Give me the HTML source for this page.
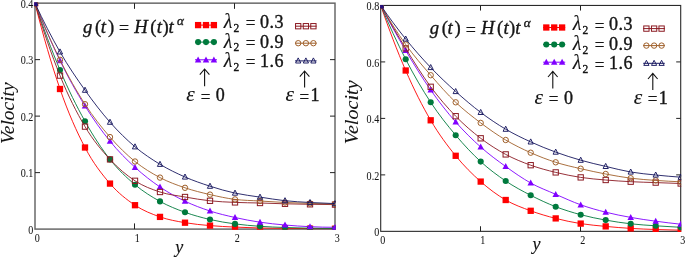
<!DOCTYPE html>
<html><head><meta charset="utf-8"><title>Velocity profiles</title>
<style>
html,body{margin:0;padding:0;background:#fff;}
body{width:685px;height:257px;overflow:hidden;}
svg{display:block;}
text{font-family:"Liberation Serif","Times New Roman",serif;fill:#151515;stroke:#151515;stroke-width:0.38px;}
.i{font-style:italic;}
.r{font-style:normal;}
.ns{stroke-width:0.04px;}
.ts{stroke-width:0.32px;}
.vs{stroke-width:0.06px;}
.ys{stroke-width:0.15px;}
.lam{stroke-width:0.1px;}
.eq{stroke-width:0.05px;}
</style></head><body>
<svg width="685" height="257" viewBox="0 0 685 257">
<rect width="685" height="257" fill="#fff"/>
<clipPath id="cl"><rect x="34.27" y="2.42" width="301.45" height="227.40"/></clipPath>
<rect x="35.00" y="3.15" width="300.00" height="225.95" fill="none" stroke="#646464" stroke-width="1.45"/>
<path d="M134.50,3.15 v5.7 M134.50,229.10 v-5.7" stroke="#222" stroke-width="1"/>
<path d="M234.50,3.15 v5.7 M234.50,229.10 v-5.7" stroke="#222" stroke-width="1"/>
<path d="M35.00,172.61 h5.0 M335.00,172.61 h-5.0" stroke="#222" stroke-width="1"/>
<path d="M35.00,116.12 h5.0 M335.00,116.12 h-5.0" stroke="#222" stroke-width="1"/>
<path d="M35.00,59.64 h5.0 M335.00,59.64 h-5.0" stroke="#222" stroke-width="1"/>
<g clip-path="url(#cl)">
<path d="M35.00,3.20 C43.33,36.35 51.67,64.95 60.00,89.00 C68.33,113.05 76.67,131.73 85.00,147.50 C93.33,163.27 101.67,173.98 110.00,183.60 C118.33,193.22 126.67,199.65 135.00,205.20 C143.33,210.75 151.67,213.98 160.00,216.90 C168.33,219.82 176.67,221.25 185.00,222.70 C193.33,224.15 201.67,224.87 210.00,225.60 C218.33,226.33 226.67,226.70 235.00,227.10 C243.33,227.50 251.67,227.78 260.00,228.00 C268.33,228.22 276.67,228.30 285.00,228.40 C293.33,228.50 301.67,228.55 310.00,228.60 C318.33,228.65 326.67,228.68 335.00,228.70" fill="none" stroke="#ff0000" stroke-width="0.9"/>
<rect x="31.85" y="0.05" width="6.3" height="6.3" fill="#ff0000"/>
<rect x="56.85" y="85.85" width="6.3" height="6.3" fill="#ff0000"/>
<rect x="81.85" y="144.35" width="6.3" height="6.3" fill="#ff0000"/>
<rect x="106.85" y="180.45" width="6.3" height="6.3" fill="#ff0000"/>
<rect x="131.85" y="202.05" width="6.3" height="6.3" fill="#ff0000"/>
<rect x="156.85" y="213.75" width="6.3" height="6.3" fill="#ff0000"/>
<rect x="181.85" y="219.55" width="6.3" height="6.3" fill="#ff0000"/>
<rect x="206.85" y="222.45" width="6.3" height="6.3" fill="#ff0000"/>
<rect x="231.85" y="223.95" width="6.3" height="6.3" fill="#ff0000"/>
<rect x="256.85" y="224.85" width="6.3" height="6.3" fill="#ff0000"/>
<rect x="281.85" y="225.25" width="6.3" height="6.3" fill="#ff0000"/>
<rect x="306.85" y="225.45" width="6.3" height="6.3" fill="#ff0000"/>
<rect x="331.85" y="225.55" width="6.3" height="6.3" fill="#ff0000"/>
<path d="M35.00,3.20 C43.33,28.05 51.67,50.32 60.00,70.00 C68.33,89.68 76.67,106.40 85.00,121.30 C93.33,136.20 101.67,148.83 110.00,159.40 C118.33,169.97 126.67,177.70 135.00,184.70 C143.33,191.70 151.67,196.80 160.00,201.40 C168.33,206.00 176.67,209.28 185.00,212.30 C193.33,215.32 201.67,217.57 210.00,219.50 C218.33,221.43 226.67,222.77 235.00,223.90 C243.33,225.03 251.67,225.70 260.00,226.30 C268.33,226.90 276.67,227.18 285.00,227.50 C293.33,227.82 301.67,228.03 310.00,228.20 C318.33,228.37 326.67,228.47 335.00,228.50" fill="none" stroke="#007a3d" stroke-width="0.9"/>
<circle cx="35.00" cy="3.20" r="3.05" fill="#007a3d"/>
<circle cx="60.00" cy="70.00" r="3.05" fill="#007a3d"/>
<circle cx="85.00" cy="121.30" r="3.05" fill="#007a3d"/>
<circle cx="110.00" cy="159.40" r="3.05" fill="#007a3d"/>
<circle cx="135.00" cy="184.70" r="3.05" fill="#007a3d"/>
<circle cx="160.00" cy="201.40" r="3.05" fill="#007a3d"/>
<circle cx="185.00" cy="212.30" r="3.05" fill="#007a3d"/>
<circle cx="210.00" cy="219.50" r="3.05" fill="#007a3d"/>
<circle cx="235.00" cy="223.90" r="3.05" fill="#007a3d"/>
<circle cx="260.00" cy="226.30" r="3.05" fill="#007a3d"/>
<circle cx="285.00" cy="227.50" r="3.05" fill="#007a3d"/>
<circle cx="310.00" cy="228.20" r="3.05" fill="#007a3d"/>
<circle cx="335.00" cy="228.50" r="3.05" fill="#007a3d"/>
<path d="M35.00,3.20 C43.33,24.35 51.67,43.48 60.00,60.60 C68.33,77.72 76.67,92.47 85.00,105.90 C93.33,119.33 101.67,130.97 110.00,141.20 C118.33,151.43 126.67,159.67 135.00,167.30 C143.33,174.93 151.67,181.35 160.00,187.00 C168.33,192.65 176.67,197.20 185.00,201.20 C193.33,205.20 201.67,208.28 210.00,211.00 C218.33,213.72 226.67,215.63 235.00,217.50 C243.33,219.37 251.67,220.95 260.00,222.20 C268.33,223.45 276.67,224.25 285.00,225.00 C293.33,225.75 301.67,226.32 310.00,226.70 C318.33,227.08 326.67,227.28 335.00,227.30" fill="none" stroke="#8000ff" stroke-width="0.9"/>
<path d="M35.00,-0.20 L38.25,5.80 L31.75,5.80 Z" fill="#8000ff"/>
<path d="M60.00,57.20 L63.25,63.20 L56.75,63.20 Z" fill="#8000ff"/>
<path d="M85.00,102.50 L88.25,108.50 L81.75,108.50 Z" fill="#8000ff"/>
<path d="M110.00,137.80 L113.25,143.80 L106.75,143.80 Z" fill="#8000ff"/>
<path d="M135.00,163.90 L138.25,169.90 L131.75,169.90 Z" fill="#8000ff"/>
<path d="M160.00,183.60 L163.25,189.60 L156.75,189.60 Z" fill="#8000ff"/>
<path d="M185.00,197.80 L188.25,203.80 L181.75,203.80 Z" fill="#8000ff"/>
<path d="M210.00,207.60 L213.25,213.60 L206.75,213.60 Z" fill="#8000ff"/>
<path d="M235.00,214.10 L238.25,220.10 L231.75,220.10 Z" fill="#8000ff"/>
<path d="M260.00,218.80 L263.25,224.80 L256.75,224.80 Z" fill="#8000ff"/>
<path d="M285.00,221.60 L288.25,227.60 L281.75,227.60 Z" fill="#8000ff"/>
<path d="M310.00,223.30 L313.25,229.30 L306.75,229.30 Z" fill="#8000ff"/>
<path d="M335.00,223.90 L338.25,229.90 L331.75,229.90 Z" fill="#8000ff"/>
<path d="M35.00,3.20 C43.33,30.90 51.67,55.03 60.00,75.60 C68.33,96.17 76.67,112.63 85.00,126.60 C93.33,140.57 101.67,150.37 110.00,159.40 C118.33,168.43 126.67,175.37 135.00,180.80 C143.33,186.23 151.67,189.30 160.00,192.00 C168.33,194.70 176.67,195.53 185.00,197.00 C193.33,198.47 201.67,199.90 210.00,200.80 C218.33,201.70 226.67,202.03 235.00,202.40 C243.33,202.77 251.67,202.77 260.00,203.00 C268.33,203.23 276.67,203.58 285.00,203.80 C293.33,204.02 301.67,204.17 310.00,204.30 C318.33,204.43 326.67,204.53 335.00,204.60" fill="none" stroke="#8b1a22" stroke-width="0.9"/>
<rect x="32.35" y="0.55" width="5.3" height="5.3" fill="none" stroke="#8b1a22" stroke-width="1"/>
<rect x="57.35" y="72.95" width="5.3" height="5.3" fill="none" stroke="#8b1a22" stroke-width="1"/>
<rect x="82.35" y="123.95" width="5.3" height="5.3" fill="none" stroke="#8b1a22" stroke-width="1"/>
<rect x="107.35" y="156.75" width="5.3" height="5.3" fill="none" stroke="#8b1a22" stroke-width="1"/>
<rect x="132.35" y="178.15" width="5.3" height="5.3" fill="none" stroke="#8b1a22" stroke-width="1"/>
<rect x="157.35" y="189.35" width="5.3" height="5.3" fill="none" stroke="#8b1a22" stroke-width="1"/>
<rect x="182.35" y="194.35" width="5.3" height="5.3" fill="none" stroke="#8b1a22" stroke-width="1"/>
<rect x="207.35" y="198.15" width="5.3" height="5.3" fill="none" stroke="#8b1a22" stroke-width="1"/>
<rect x="232.35" y="199.75" width="5.3" height="5.3" fill="none" stroke="#8b1a22" stroke-width="1"/>
<rect x="257.35" y="200.35" width="5.3" height="5.3" fill="none" stroke="#8b1a22" stroke-width="1"/>
<rect x="282.35" y="201.15" width="5.3" height="5.3" fill="none" stroke="#8b1a22" stroke-width="1"/>
<rect x="307.35" y="201.65" width="5.3" height="5.3" fill="none" stroke="#8b1a22" stroke-width="1"/>
<rect x="332.35" y="201.95" width="5.3" height="5.3" fill="none" stroke="#8b1a22" stroke-width="1"/>
<path d="M35.00,3.20 C43.33,24.10 51.67,42.97 60.00,59.80 C68.33,76.63 76.67,91.32 85.00,104.20 C93.33,117.08 101.67,127.55 110.00,137.10 C118.33,146.65 126.67,154.75 135.00,161.50 C143.33,168.25 151.67,173.22 160.00,177.60 C168.33,181.98 176.67,184.97 185.00,187.80 C193.33,190.63 201.67,192.67 210.00,194.60 C218.33,196.53 226.67,198.33 235.00,199.40 C243.33,200.47 251.67,200.48 260.00,201.00 C268.33,201.52 276.67,202.10 285.00,202.50 C293.33,202.90 301.67,203.15 310.00,203.40 C318.33,203.65 326.67,203.85 335.00,204.00" fill="none" stroke="#a0602a" stroke-width="0.9"/>
<circle cx="35.00" cy="3.20" r="2.7" fill="none" stroke="#a0602a" stroke-width="1"/>
<circle cx="60.00" cy="59.80" r="2.7" fill="none" stroke="#a0602a" stroke-width="1"/>
<circle cx="85.00" cy="104.20" r="2.7" fill="none" stroke="#a0602a" stroke-width="1"/>
<circle cx="110.00" cy="137.10" r="2.7" fill="none" stroke="#a0602a" stroke-width="1"/>
<circle cx="135.00" cy="161.50" r="2.7" fill="none" stroke="#a0602a" stroke-width="1"/>
<circle cx="160.00" cy="177.60" r="2.7" fill="none" stroke="#a0602a" stroke-width="1"/>
<circle cx="185.00" cy="187.80" r="2.7" fill="none" stroke="#a0602a" stroke-width="1"/>
<circle cx="210.00" cy="194.60" r="2.7" fill="none" stroke="#a0602a" stroke-width="1"/>
<circle cx="235.00" cy="199.40" r="2.7" fill="none" stroke="#a0602a" stroke-width="1"/>
<circle cx="260.00" cy="201.00" r="2.7" fill="none" stroke="#a0602a" stroke-width="1"/>
<circle cx="285.00" cy="202.50" r="2.7" fill="none" stroke="#a0602a" stroke-width="1"/>
<circle cx="310.00" cy="203.40" r="2.7" fill="none" stroke="#a0602a" stroke-width="1"/>
<circle cx="335.00" cy="204.00" r="2.7" fill="none" stroke="#a0602a" stroke-width="1"/>
<path d="M35.00,3.20 C43.33,21.17 51.67,37.40 60.00,51.90 C68.33,66.40 76.67,78.48 85.00,90.20 C93.33,101.92 101.67,112.77 110.00,122.20 C118.33,131.63 126.67,139.78 135.00,146.80 C143.33,153.82 151.67,159.27 160.00,164.30 C168.33,169.33 176.67,173.35 185.00,177.00 C193.33,180.65 201.67,183.52 210.00,186.20 C218.33,188.88 226.67,191.28 235.00,193.10 C243.33,194.92 251.67,195.83 260.00,197.10 C268.33,198.37 276.67,199.80 285.00,200.70 C293.33,201.60 301.67,202.02 310.00,202.50 C318.33,202.98 326.67,203.35 335.00,203.60" fill="none" stroke="#17175f" stroke-width="0.9"/>
<path d="M35.00,0.20 L37.60,5.30 L32.40,5.30 Z" fill="none" stroke="#17175f" stroke-width="0.95" stroke-linejoin="round"/>
<path d="M60.00,48.90 L62.60,54.00 L57.40,54.00 Z" fill="none" stroke="#17175f" stroke-width="0.95" stroke-linejoin="round"/>
<path d="M85.00,87.20 L87.60,92.30 L82.40,92.30 Z" fill="none" stroke="#17175f" stroke-width="0.95" stroke-linejoin="round"/>
<path d="M110.00,119.20 L112.60,124.30 L107.40,124.30 Z" fill="none" stroke="#17175f" stroke-width="0.95" stroke-linejoin="round"/>
<path d="M135.00,143.80 L137.60,148.90 L132.40,148.90 Z" fill="none" stroke="#17175f" stroke-width="0.95" stroke-linejoin="round"/>
<path d="M160.00,161.30 L162.60,166.40 L157.40,166.40 Z" fill="none" stroke="#17175f" stroke-width="0.95" stroke-linejoin="round"/>
<path d="M185.00,174.00 L187.60,179.10 L182.40,179.10 Z" fill="none" stroke="#17175f" stroke-width="0.95" stroke-linejoin="round"/>
<path d="M210.00,183.20 L212.60,188.30 L207.40,188.30 Z" fill="none" stroke="#17175f" stroke-width="0.95" stroke-linejoin="round"/>
<path d="M235.00,190.10 L237.60,195.20 L232.40,195.20 Z" fill="none" stroke="#17175f" stroke-width="0.95" stroke-linejoin="round"/>
<path d="M260.00,194.10 L262.60,199.20 L257.40,199.20 Z" fill="none" stroke="#17175f" stroke-width="0.95" stroke-linejoin="round"/>
<path d="M285.00,197.70 L287.60,202.80 L282.40,202.80 Z" fill="none" stroke="#17175f" stroke-width="0.95" stroke-linejoin="round"/>
<path d="M310.00,199.50 L312.60,204.60 L307.40,204.60 Z" fill="none" stroke="#17175f" stroke-width="0.95" stroke-linejoin="round"/>
<path d="M335.00,200.60 L337.60,205.70 L332.40,205.70 Z" fill="none" stroke="#17175f" stroke-width="0.95" stroke-linejoin="round"/>
<rect x="34.27" y="2.42" width="3.4" height="3.6" fill="#24127a"/>
</g>
<clipPath id="cr"><rect x="380.15" y="4.90" width="301.10" height="227.00"/></clipPath>
<rect x="380.70" y="5.45" width="300.00" height="225.90" fill="none" stroke="#2a2a2a" stroke-width="1.10"/>
<path d="M480.50,5.45 v5.1 M480.50,231.35 v-5.1" stroke="#222" stroke-width="1"/>
<path d="M580.50,5.45 v5.1 M580.50,231.35 v-5.1" stroke="#222" stroke-width="1"/>
<path d="M380.70,174.88 h4.5 M680.70,174.88 h-4.5" stroke="#222" stroke-width="1"/>
<path d="M380.70,118.40 h4.5 M680.70,118.40 h-4.5" stroke="#222" stroke-width="1"/>
<path d="M380.70,61.92 h4.5 M680.70,61.92 h-4.5" stroke="#222" stroke-width="1"/>
<g clip-path="url(#cr)">
<path d="M380.70,5.30 C389.03,29.60 397.37,51.33 405.70,70.50 C414.03,89.67 422.37,106.08 430.70,120.30 C439.03,134.52 447.37,145.58 455.70,155.80 C464.03,166.02 472.37,174.23 480.70,181.60 C489.03,188.97 497.37,195.13 505.70,200.00 C514.03,204.87 522.37,207.73 530.70,210.80 C539.03,213.87 547.37,216.27 555.70,218.40 C564.03,220.53 572.37,222.27 580.70,223.60 C589.03,224.93 597.37,225.60 605.70,226.40 C614.03,227.20 622.37,227.88 630.70,228.40 C639.03,228.92 647.37,229.20 655.70,229.50 C664.03,229.80 672.37,230.03 680.70,230.20" fill="none" stroke="#ff0000" stroke-width="0.9"/>
<rect x="377.55" y="2.15" width="6.3" height="6.3" fill="#ff0000"/>
<rect x="402.55" y="67.35" width="6.3" height="6.3" fill="#ff0000"/>
<rect x="427.55" y="117.15" width="6.3" height="6.3" fill="#ff0000"/>
<rect x="452.55" y="152.65" width="6.3" height="6.3" fill="#ff0000"/>
<rect x="477.55" y="178.45" width="6.3" height="6.3" fill="#ff0000"/>
<rect x="502.55" y="196.85" width="6.3" height="6.3" fill="#ff0000"/>
<rect x="527.55" y="207.65" width="6.3" height="6.3" fill="#ff0000"/>
<rect x="552.55" y="215.25" width="6.3" height="6.3" fill="#ff0000"/>
<rect x="577.55" y="220.45" width="6.3" height="6.3" fill="#ff0000"/>
<rect x="602.55" y="223.25" width="6.3" height="6.3" fill="#ff0000"/>
<rect x="627.55" y="225.25" width="6.3" height="6.3" fill="#ff0000"/>
<rect x="652.55" y="226.35" width="6.3" height="6.3" fill="#ff0000"/>
<rect x="677.55" y="227.05" width="6.3" height="6.3" fill="#ff0000"/>
<path d="M380.70,5.30 C389.03,25.13 397.37,43.13 405.70,59.30 C414.03,75.47 422.37,89.65 430.70,102.30 C439.03,114.95 447.37,125.32 455.70,135.20 C464.03,145.08 472.37,153.97 480.70,161.60 C489.03,169.23 497.37,175.38 505.70,181.00 C514.03,186.62 522.37,191.02 530.70,195.30 C539.03,199.58 547.37,203.47 555.70,206.70 C564.03,209.93 572.37,212.47 580.70,214.70 C589.03,216.93 597.37,218.58 605.70,220.10 C614.03,221.62 622.37,222.85 630.70,223.80 C639.03,224.75 647.37,225.22 655.70,225.80 C664.03,226.38 672.37,226.88 680.70,227.30" fill="none" stroke="#007a3d" stroke-width="0.9"/>
<circle cx="380.70" cy="5.30" r="3.05" fill="#007a3d"/>
<circle cx="405.70" cy="59.30" r="3.05" fill="#007a3d"/>
<circle cx="430.70" cy="102.30" r="3.05" fill="#007a3d"/>
<circle cx="455.70" cy="135.20" r="3.05" fill="#007a3d"/>
<circle cx="480.70" cy="161.60" r="3.05" fill="#007a3d"/>
<circle cx="505.70" cy="181.00" r="3.05" fill="#007a3d"/>
<circle cx="530.70" cy="195.30" r="3.05" fill="#007a3d"/>
<circle cx="555.70" cy="206.70" r="3.05" fill="#007a3d"/>
<circle cx="580.70" cy="214.70" r="3.05" fill="#007a3d"/>
<circle cx="605.70" cy="220.10" r="3.05" fill="#007a3d"/>
<circle cx="630.70" cy="223.80" r="3.05" fill="#007a3d"/>
<circle cx="655.70" cy="225.80" r="3.05" fill="#007a3d"/>
<circle cx="680.70" cy="227.30" r="3.05" fill="#007a3d"/>
<path d="M380.70,5.30 C389.03,21.32 397.37,36.38 405.70,50.50 C414.03,64.62 422.37,78.08 430.70,90.00 C439.03,101.92 447.37,112.50 455.70,122.00 C464.03,131.50 472.37,139.58 480.70,147.00 C489.03,154.42 497.37,160.50 505.70,166.50 C514.03,172.50 522.37,178.37 530.70,183.00 C539.03,187.63 547.37,190.67 555.70,194.30 C564.03,197.93 572.37,201.82 580.70,204.80 C589.03,207.78 597.37,210.10 605.70,212.20 C614.03,214.30 622.37,215.90 630.70,217.40 C639.03,218.90 647.37,220.07 655.70,221.20 C664.03,222.33 672.37,223.33 680.70,224.20" fill="none" stroke="#8000ff" stroke-width="0.9"/>
<path d="M380.70,1.90 L383.95,7.90 L377.45,7.90 Z" fill="#8000ff"/>
<path d="M405.70,47.10 L408.95,53.10 L402.45,53.10 Z" fill="#8000ff"/>
<path d="M430.70,86.60 L433.95,92.60 L427.45,92.60 Z" fill="#8000ff"/>
<path d="M455.70,118.60 L458.95,124.60 L452.45,124.60 Z" fill="#8000ff"/>
<path d="M480.70,143.60 L483.95,149.60 L477.45,149.60 Z" fill="#8000ff"/>
<path d="M505.70,163.10 L508.95,169.10 L502.45,169.10 Z" fill="#8000ff"/>
<path d="M530.70,179.60 L533.95,185.60 L527.45,185.60 Z" fill="#8000ff"/>
<path d="M555.70,190.90 L558.95,196.90 L552.45,196.90 Z" fill="#8000ff"/>
<path d="M580.70,201.40 L583.95,207.40 L577.45,207.40 Z" fill="#8000ff"/>
<path d="M605.70,208.80 L608.95,214.80 L602.45,214.80 Z" fill="#8000ff"/>
<path d="M630.70,214.00 L633.95,220.00 L627.45,220.00 Z" fill="#8000ff"/>
<path d="M655.70,217.80 L658.95,223.80 L652.45,223.80 Z" fill="#8000ff"/>
<path d="M680.70,220.80 L683.95,226.80 L677.45,226.80 Z" fill="#8000ff"/>
<path d="M380.70,5.30 C389.03,20.45 397.37,34.82 405.70,48.40 C414.03,61.98 422.37,75.50 430.70,86.80 C439.03,98.10 447.37,107.62 455.70,116.20 C464.03,124.78 472.37,131.93 480.70,138.30 C489.03,144.67 497.37,149.92 505.70,154.40 C514.03,158.88 522.37,162.20 530.70,165.20 C539.03,168.20 547.37,170.37 555.70,172.40 C564.03,174.43 572.37,176.13 580.70,177.40 C589.03,178.67 597.37,179.28 605.70,180.00 C614.03,180.72 622.37,181.27 630.70,181.70 C639.03,182.13 647.37,182.30 655.70,182.60 C664.03,182.90 672.37,183.20 680.70,183.50" fill="none" stroke="#8b1a22" stroke-width="0.9"/>
<rect x="378.05" y="2.65" width="5.3" height="5.3" fill="none" stroke="#8b1a22" stroke-width="1"/>
<rect x="403.05" y="45.75" width="5.3" height="5.3" fill="none" stroke="#8b1a22" stroke-width="1"/>
<rect x="428.05" y="84.15" width="5.3" height="5.3" fill="none" stroke="#8b1a22" stroke-width="1"/>
<rect x="453.05" y="113.55" width="5.3" height="5.3" fill="none" stroke="#8b1a22" stroke-width="1"/>
<rect x="478.05" y="135.65" width="5.3" height="5.3" fill="none" stroke="#8b1a22" stroke-width="1"/>
<rect x="503.05" y="151.75" width="5.3" height="5.3" fill="none" stroke="#8b1a22" stroke-width="1"/>
<rect x="528.05" y="162.55" width="5.3" height="5.3" fill="none" stroke="#8b1a22" stroke-width="1"/>
<rect x="553.05" y="169.75" width="5.3" height="5.3" fill="none" stroke="#8b1a22" stroke-width="1"/>
<rect x="578.05" y="174.75" width="5.3" height="5.3" fill="none" stroke="#8b1a22" stroke-width="1"/>
<rect x="603.05" y="177.35" width="5.3" height="5.3" fill="none" stroke="#8b1a22" stroke-width="1"/>
<rect x="628.05" y="179.05" width="5.3" height="5.3" fill="none" stroke="#8b1a22" stroke-width="1"/>
<rect x="653.05" y="179.95" width="5.3" height="5.3" fill="none" stroke="#8b1a22" stroke-width="1"/>
<rect x="678.05" y="180.85" width="5.3" height="5.3" fill="none" stroke="#8b1a22" stroke-width="1"/>
<path d="M380.70,5.30 C389.03,19.78 397.37,32.85 405.70,44.50 C414.03,56.15 422.37,65.57 430.70,75.20 C439.03,84.83 447.37,94.35 455.70,102.30 C464.03,110.25 472.37,116.62 480.70,122.90 C489.03,129.18 497.37,135.03 505.70,140.00 C514.03,144.97 522.37,148.98 530.70,152.70 C539.03,156.42 547.37,159.63 555.70,162.30 C564.03,164.97 572.37,166.75 580.70,168.70 C589.03,170.65 597.37,172.42 605.70,174.00 C614.03,175.58 622.37,177.13 630.70,178.20 C639.03,179.27 647.37,179.80 655.70,180.40 C664.03,181.00 672.37,181.47 680.70,181.80" fill="none" stroke="#a0602a" stroke-width="0.9"/>
<circle cx="380.70" cy="5.30" r="2.7" fill="none" stroke="#a0602a" stroke-width="1"/>
<circle cx="405.70" cy="44.50" r="2.7" fill="none" stroke="#a0602a" stroke-width="1"/>
<circle cx="430.70" cy="75.20" r="2.7" fill="none" stroke="#a0602a" stroke-width="1"/>
<circle cx="455.70" cy="102.30" r="2.7" fill="none" stroke="#a0602a" stroke-width="1"/>
<circle cx="480.70" cy="122.90" r="2.7" fill="none" stroke="#a0602a" stroke-width="1"/>
<circle cx="505.70" cy="140.00" r="2.7" fill="none" stroke="#a0602a" stroke-width="1"/>
<circle cx="530.70" cy="152.70" r="2.7" fill="none" stroke="#a0602a" stroke-width="1"/>
<circle cx="555.70" cy="162.30" r="2.7" fill="none" stroke="#a0602a" stroke-width="1"/>
<circle cx="580.70" cy="168.70" r="2.7" fill="none" stroke="#a0602a" stroke-width="1"/>
<circle cx="605.70" cy="174.00" r="2.7" fill="none" stroke="#a0602a" stroke-width="1"/>
<circle cx="630.70" cy="178.20" r="2.7" fill="none" stroke="#a0602a" stroke-width="1"/>
<circle cx="655.70" cy="180.40" r="2.7" fill="none" stroke="#a0602a" stroke-width="1"/>
<circle cx="680.70" cy="181.80" r="2.7" fill="none" stroke="#a0602a" stroke-width="1"/>
<path d="M380.70,5.30 C389.03,17.40 397.37,28.63 405.70,39.00 C414.03,49.37 422.37,58.75 430.70,67.50 C439.03,76.25 447.37,84.02 455.70,91.50 C464.03,98.98 472.37,106.12 480.70,112.40 C489.03,118.68 497.37,124.28 505.70,129.20 C514.03,134.12 522.37,138.08 530.70,141.90 C539.03,145.72 547.37,149.05 555.70,152.10 C564.03,155.15 572.37,157.82 580.70,160.20 C589.03,162.58 597.37,164.43 605.70,166.40 C614.03,168.37 622.37,170.57 630.70,172.00 C639.03,173.43 647.37,174.13 655.70,175.00 C664.03,175.87 672.37,176.60 680.70,177.20" fill="none" stroke="#17175f" stroke-width="0.9"/>
<path d="M380.70,2.30 L383.30,7.40 L378.10,7.40 Z" fill="none" stroke="#17175f" stroke-width="0.95" stroke-linejoin="round"/>
<path d="M405.70,36.00 L408.30,41.10 L403.10,41.10 Z" fill="none" stroke="#17175f" stroke-width="0.95" stroke-linejoin="round"/>
<path d="M430.70,64.50 L433.30,69.60 L428.10,69.60 Z" fill="none" stroke="#17175f" stroke-width="0.95" stroke-linejoin="round"/>
<path d="M455.70,88.50 L458.30,93.60 L453.10,93.60 Z" fill="none" stroke="#17175f" stroke-width="0.95" stroke-linejoin="round"/>
<path d="M480.70,109.40 L483.30,114.50 L478.10,114.50 Z" fill="none" stroke="#17175f" stroke-width="0.95" stroke-linejoin="round"/>
<path d="M505.70,126.20 L508.30,131.30 L503.10,131.30 Z" fill="none" stroke="#17175f" stroke-width="0.95" stroke-linejoin="round"/>
<path d="M530.70,138.90 L533.30,144.00 L528.10,144.00 Z" fill="none" stroke="#17175f" stroke-width="0.95" stroke-linejoin="round"/>
<path d="M555.70,149.10 L558.30,154.20 L553.10,154.20 Z" fill="none" stroke="#17175f" stroke-width="0.95" stroke-linejoin="round"/>
<path d="M580.70,157.20 L583.30,162.30 L578.10,162.30 Z" fill="none" stroke="#17175f" stroke-width="0.95" stroke-linejoin="round"/>
<path d="M605.70,163.40 L608.30,168.50 L603.10,168.50 Z" fill="none" stroke="#17175f" stroke-width="0.95" stroke-linejoin="round"/>
<path d="M630.70,169.00 L633.30,174.10 L628.10,174.10 Z" fill="none" stroke="#17175f" stroke-width="0.95" stroke-linejoin="round"/>
<path d="M655.70,172.00 L658.30,177.10 L653.10,177.10 Z" fill="none" stroke="#17175f" stroke-width="0.95" stroke-linejoin="round"/>
<path d="M680.70,174.20 L683.30,179.30 L678.10,179.30 Z" fill="none" stroke="#17175f" stroke-width="0.95" stroke-linejoin="round"/>
<rect x="380.15" y="4.90" width="3.4" height="3.6" fill="#24127a"/>
</g>
<text transform="scale(1.040,1)" class="ts" font-size="18"><tspan class="i" x="79.90" y="33.00">g</tspan><tspan class="r" x="91.44" y="33.00">(</tspan><tspan class="i" x="96.83" y="33.00">t</tspan><tspan class="r" x="103.75" y="33.00">)</tspan><tspan class="r eq" x="114.23" y="34.40">=</tspan><tspan class="i" x="129.13" y="33.00">H</tspan><tspan class="r" x="144.42" y="33.00">(</tspan><tspan class="i" x="150.67" y="33.00">t</tspan><tspan class="r" x="156.15" y="33.00">)</tspan><tspan class="i" x="162.12" y="33.00">t</tspan><tspan class="i" x="170.19" y="25.20" font-size="12.6">α</tspan></text>
<text transform="scale(1.040,1)" class="ts" font-size="18"><tspan class="i" x="413.27" y="34.40">g</tspan><tspan class="r" x="424.81" y="34.40">(</tspan><tspan class="i" x="430.19" y="34.40">t</tspan><tspan class="r" x="437.12" y="34.40">)</tspan><tspan class="r eq" x="447.60" y="35.80">=</tspan><tspan class="i" x="462.50" y="34.40">H</tspan><tspan class="r" x="477.79" y="34.40">(</tspan><tspan class="i" x="484.04" y="34.40">t</tspan><tspan class="r" x="489.52" y="34.40">)</tspan><tspan class="i" x="495.48" y="34.40">t</tspan><tspan class="i" x="503.56" y="26.60" font-size="12.6">α</tspan></text>
<text font-size="18"><tspan class="i lam" x="223.80" y="28.00" font-size="20">λ</tspan><tspan class="r" x="233.60" y="31.70" font-size="11.5">2</tspan><tspan class="r eq" x="245.60" y="29.30">=</tspan><tspan class="r" x="260.00" y="28.00" letter-spacing="0.45">0.3</tspan></text>
<path d="M195.00,25.10 H217.00" stroke="#ff0000" stroke-width="1"/>
<rect x="194.95" y="21.95" width="6.3" height="6.3" fill="#ff0000"/>
<rect x="202.85" y="21.95" width="6.3" height="6.3" fill="#ff0000"/>
<rect x="210.75" y="21.95" width="6.3" height="6.3" fill="#ff0000"/>
<path d="M295.00,26.20 H316.60" stroke="#8b1a22" stroke-width="1"/>
<rect x="295.55" y="23.55" width="5.3" height="5.3" fill="none" stroke="#8b1a22" stroke-width="1"/>
<rect x="303.25" y="23.55" width="5.3" height="5.3" fill="none" stroke="#8b1a22" stroke-width="1"/>
<rect x="310.75" y="23.55" width="5.3" height="5.3" fill="none" stroke="#8b1a22" stroke-width="1"/>
<text font-size="18"><tspan class="i lam" x="223.80" y="47.50" font-size="20">λ</tspan><tspan class="r" x="233.60" y="51.20" font-size="11.5">2</tspan><tspan class="r eq" x="245.60" y="48.80">=</tspan><tspan class="r" x="260.00" y="47.50" letter-spacing="0.45">0.9</tspan></text>
<path d="M195.00,42.10 H217.00" stroke="#007a3d" stroke-width="1"/>
<circle cx="198.10" cy="42.10" r="3.05" fill="#007a3d"/>
<circle cx="206.00" cy="42.10" r="3.05" fill="#007a3d"/>
<circle cx="213.90" cy="42.10" r="3.05" fill="#007a3d"/>
<path d="M295.00,43.20 H316.60" stroke="#a0602a" stroke-width="1"/>
<circle cx="298.20" cy="43.20" r="2.7" fill="none" stroke="#a0602a" stroke-width="1"/>
<circle cx="305.90" cy="43.20" r="2.7" fill="none" stroke="#a0602a" stroke-width="1"/>
<circle cx="313.40" cy="43.20" r="2.7" fill="none" stroke="#a0602a" stroke-width="1"/>
<text font-size="18"><tspan class="i lam" x="223.80" y="66.80" font-size="20">λ</tspan><tspan class="r" x="233.60" y="70.50" font-size="11.5">2</tspan><tspan class="r eq" x="245.60" y="68.10">=</tspan><tspan class="r" x="260.00" y="66.80" letter-spacing="0.45">1.6</tspan></text>
<path d="M195.00,59.80 H217.00" stroke="#8000ff" stroke-width="1"/>
<path d="M198.10,56.40 L201.35,62.40 L194.85,62.40 Z" fill="#8000ff"/>
<path d="M206.00,56.40 L209.25,62.40 L202.75,62.40 Z" fill="#8000ff"/>
<path d="M213.90,56.40 L217.15,62.40 L210.65,62.40 Z" fill="#8000ff"/>
<path d="M295.00,60.90 H316.60" stroke="#17175f" stroke-width="1"/>
<path d="M298.20,57.90 L300.80,63.00 L295.60,63.00 Z" fill="none" stroke="#17175f" stroke-width="0.95" stroke-linejoin="round"/>
<path d="M305.90,57.90 L308.50,63.00 L303.30,63.00 Z" fill="none" stroke="#17175f" stroke-width="0.95" stroke-linejoin="round"/>
<path d="M313.40,57.90 L316.00,63.00 L310.80,63.00 Z" fill="none" stroke="#17175f" stroke-width="0.95" stroke-linejoin="round"/>
<path d="M204.60,86.20 V69.00 M199.80,74.60 L204.60,69.00 L209.40,74.60" fill="none" stroke="#111" stroke-width="1.1"/>
<path d="M304.60,87.60 V71.00 M299.80,76.60 L304.60,71.00 L309.40,76.60" fill="none" stroke="#111" stroke-width="1.1"/>
<text font-size="18"><tspan class="i lam" x="186.20" y="101.40" font-size="21.5">ε</tspan><tspan class="r eq" x="200.40" y="102.70">=</tspan><tspan class="r" x="215.80" y="101.40">0</tspan></text>
<text font-size="18"><tspan class="i lam" x="285.60" y="101.40" font-size="21.5">ε</tspan><tspan class="r eq" x="299.20" y="102.70">=</tspan><tspan class="r" x="310.60" y="101.40">1</tspan></text>
<text font-size="18"><tspan class="i lam" x="572.80" y="30.40" font-size="20">λ</tspan><tspan class="r" x="582.60" y="34.10" font-size="11.5">2</tspan><tspan class="r eq" x="594.60" y="31.70">=</tspan><tspan class="r" x="609.00" y="30.40" letter-spacing="0.45">0.3</tspan></text>
<path d="M543.20,27.50 H565.20" stroke="#ff0000" stroke-width="1"/>
<rect x="543.15" y="24.35" width="6.3" height="6.3" fill="#ff0000"/>
<rect x="551.05" y="24.35" width="6.3" height="6.3" fill="#ff0000"/>
<rect x="558.95" y="24.35" width="6.3" height="6.3" fill="#ff0000"/>
<path d="M643.20,28.60 H664.80" stroke="#8b1a22" stroke-width="1"/>
<rect x="643.75" y="25.95" width="5.3" height="5.3" fill="none" stroke="#8b1a22" stroke-width="1"/>
<rect x="651.45" y="25.95" width="5.3" height="5.3" fill="none" stroke="#8b1a22" stroke-width="1"/>
<rect x="658.95" y="25.95" width="5.3" height="5.3" fill="none" stroke="#8b1a22" stroke-width="1"/>
<text font-size="18"><tspan class="i lam" x="572.80" y="49.90" font-size="20">λ</tspan><tspan class="r" x="582.60" y="53.60" font-size="11.5">2</tspan><tspan class="r eq" x="594.60" y="51.20">=</tspan><tspan class="r" x="609.00" y="49.90" letter-spacing="0.45">0.9</tspan></text>
<path d="M543.20,44.50 H565.20" stroke="#007a3d" stroke-width="1"/>
<circle cx="546.30" cy="44.50" r="3.05" fill="#007a3d"/>
<circle cx="554.20" cy="44.50" r="3.05" fill="#007a3d"/>
<circle cx="562.10" cy="44.50" r="3.05" fill="#007a3d"/>
<path d="M643.20,45.60 H664.80" stroke="#a0602a" stroke-width="1"/>
<circle cx="646.40" cy="45.60" r="2.7" fill="none" stroke="#a0602a" stroke-width="1"/>
<circle cx="654.10" cy="45.60" r="2.7" fill="none" stroke="#a0602a" stroke-width="1"/>
<circle cx="661.60" cy="45.60" r="2.7" fill="none" stroke="#a0602a" stroke-width="1"/>
<text font-size="18"><tspan class="i lam" x="572.80" y="69.20" font-size="20">λ</tspan><tspan class="r" x="582.60" y="72.90" font-size="11.5">2</tspan><tspan class="r eq" x="594.60" y="70.50">=</tspan><tspan class="r" x="609.00" y="69.20" letter-spacing="0.45">1.6</tspan></text>
<path d="M543.20,62.20 H565.20" stroke="#8000ff" stroke-width="1"/>
<path d="M546.30,58.80 L549.55,64.80 L543.05,64.80 Z" fill="#8000ff"/>
<path d="M554.20,58.80 L557.45,64.80 L550.95,64.80 Z" fill="#8000ff"/>
<path d="M562.10,58.80 L565.35,64.80 L558.85,64.80 Z" fill="#8000ff"/>
<path d="M643.20,63.30 H664.80" stroke="#17175f" stroke-width="1"/>
<path d="M646.40,60.30 L649.00,65.40 L643.80,65.40 Z" fill="none" stroke="#17175f" stroke-width="0.95" stroke-linejoin="round"/>
<path d="M654.10,60.30 L656.70,65.40 L651.50,65.40 Z" fill="none" stroke="#17175f" stroke-width="0.95" stroke-linejoin="round"/>
<path d="M661.60,60.30 L664.20,65.40 L659.00,65.40 Z" fill="none" stroke="#17175f" stroke-width="0.95" stroke-linejoin="round"/>
<path d="M552.80,88.60 V71.40 M548.00,77.00 L552.80,71.40 L557.60,77.00" fill="none" stroke="#111" stroke-width="1.1"/>
<path d="M652.80,90.00 V73.40 M648.00,79.00 L652.80,73.40 L657.60,79.00" fill="none" stroke="#111" stroke-width="1.1"/>
<text font-size="18"><tspan class="i lam" x="534.40" y="103.80" font-size="21.5">ε</tspan><tspan class="r eq" x="548.60" y="105.10">=</tspan><tspan class="r" x="564.00" y="103.80">0</tspan></text>
<text font-size="18"><tspan class="i lam" x="633.80" y="103.80" font-size="21.5">ε</tspan><tspan class="r eq" x="647.40" y="105.10">=</tspan><tspan class="r" x="658.80" y="103.80">1</tspan></text>
<text transform="translate(33.40,233.50) scale(0.87,1)" class="r ns" font-size="11.6" text-anchor="end">0</text>
<text transform="translate(33.40,177.01) scale(0.87,1)" class="r ns" font-size="11.6" text-anchor="end">0.1</text>
<text transform="translate(33.40,120.53) scale(0.87,1)" class="r ns" font-size="11.6" text-anchor="end">0.2</text>
<text transform="translate(33.40,64.04) scale(0.87,1)" class="r ns" font-size="11.6" text-anchor="end">0.3</text>
<text transform="translate(33.40,7.55) scale(0.87,1)" class="r ns" font-size="11.6" text-anchor="end">0.4</text>
<text transform="translate(34.70,241.90) scale(0.87,1)" class="r ns" font-size="11.6" text-anchor="start">0</text>
<text transform="translate(134.70,241.90) scale(0.87,1)" class="r ns" font-size="11.6" text-anchor="start">1</text>
<text transform="translate(234.70,241.90) scale(0.87,1)" class="r ns" font-size="11.6" text-anchor="start">2</text>
<text transform="translate(334.70,241.90) scale(0.87,1)" class="r ns" font-size="11.6" text-anchor="start">3</text>
<text transform="translate(379.20,236.05) scale(0.87,1)" class="r ns" font-size="11.6" text-anchor="end">0</text>
<text transform="translate(379.20,179.57) scale(0.87,1)" class="r ns" font-size="11.6" text-anchor="end">0.2</text>
<text transform="translate(379.20,123.10) scale(0.87,1)" class="r ns" font-size="11.6" text-anchor="end">0.4</text>
<text transform="translate(379.20,66.62) scale(0.87,1)" class="r ns" font-size="11.6" text-anchor="end">0.6</text>
<text transform="translate(379.20,10.15) scale(0.87,1)" class="r ns" font-size="11.6" text-anchor="end">0.8</text>
<text transform="translate(380.20,244.40) scale(0.87,1)" class="r ns" font-size="11.6" text-anchor="start">0</text>
<text transform="translate(480.20,244.40) scale(0.87,1)" class="r ns" font-size="11.6" text-anchor="start">1</text>
<text transform="translate(580.20,244.40) scale(0.87,1)" class="r ns" font-size="11.6" text-anchor="start">2</text>
<text transform="translate(680.20,244.40) scale(0.87,1)" class="r ns" font-size="11.6" text-anchor="start">3</text>
<text transform="translate(13.9,143.9) rotate(-90) scale(1.05,1)" class="i vs" font-size="18.5">Velocity</text>
<text transform="translate(358.2,144.2) rotate(-90) scale(1.035,1)" class="i vs" font-size="19.5">Velocity</text>
<text x="175.20" y="252.90" class="i ys" font-size="18" >y</text>
<text x="532.60" y="249.90" class="i ys" font-size="18" >y</text>
</svg>
</body></html>
